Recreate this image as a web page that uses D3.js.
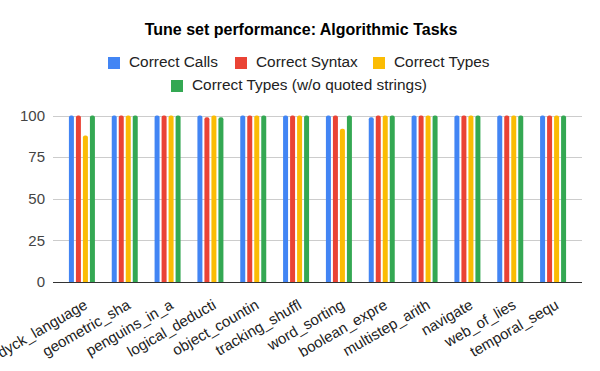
<!DOCTYPE html>
<html>
<head>
<meta charset="utf-8">
<script src="https://cdn.jsdelivr.net/npm/d3@7"></script>
<style>
  body { margin: 0; background: #fff; }
  text { font-family: Arial, "Liberation Sans", sans-serif; }
</style>
</head>
<body>
<svg id="chart"></svg>
<script>
'use strict'

// data
var tasks = ["dyck_language", "geometric_sha", "penguins_in_a", "logical_deducti", "object_countin",
    "tracking_shuffl", "word_sorting", "boolean_expre", "multistep_arith", "navigate", "web_of_lies", "temporal_sequ"];
var seriesNames = ["Correct Calls", "Correct Syntax", "Correct Types", "Correct Types (w/o quoted strings)"];
var colors = ["#4285F4", "#EA4335", "#FBBC04", "#34A853"];
var correctCalls = [100, 100, 100, 100, 100, 100, 100, 99, 100, 100, 100, 100];
var correctSyntax = [100, 100, 100, 99, 100, 100, 100, 100, 100, 100, 100, 100];
var correctTypes = [88, 100, 100, 100, 100, 100, 92, 100, 100, 100, 100, 100];
var correctTypesNoQuoted = [100, 100, 100, 99, 100, 100, 100, 100, 100, 100, 100, 100];
var yTicks = [0, 25, 50, 75, 100];

var allSeries = [correctCalls, correctSyntax, correctTypes, correctTypesNoQuoted];

var width = 600, height = 371;
var svg = d3.select("#chart").attr("width", width).attr("height", height);

var x0 = d3.scaleBand().domain(tasks).range([60.5, 574.5]);
var x1 = d3.scaleBand().domain(seriesNames).range([-13, 13]).paddingInner(2 / 7);
var y = d3.scaleLinear().domain([0, 100]).range([282, 115.5]);

// title
svg.append("text")
    .attr("x", 301).attr("y", 35)
    .attr("text-anchor", "middle")
    .style("font-size", "16px").style("font-weight", "bold")
    .attr("fill", "#000")
    .text("Tune set performance: Algorithmic Tasks");

// legend, two rows
var legendRows = [
    { items: [0, 1, 2], x: [108, 235, 373], y: 67 },
    { items: [3], x: [171], y: 90 }
];
legendRows.forEach(function (row) {
    row.items.forEach(function (i, k) {
        var g = svg.append("g").attr("transform", "translate(" + row.x[k] + "," + row.y + ")");
        g.append("rect").attr("x", 0).attr("y", -10).attr("width", 12).attr("height", 12).attr("fill", colors[i]);
        g.append("text").attr("x", 21).attr("y", 0).style("font-size", "15.4px").attr("fill", "#222").text(seriesNames[i]);
    });
});

// gridlines
svg.append("g")
    .selectAll("line")
    .data(yTicks.filter(function (d) { return d > 0; }))
    .enter().append("line")
    .attr("x1", 53).attr("x2", 582)
    .attr("y1", function (d) { return Math.round(y(d)) + 0.5; })
    .attr("y2", function (d) { return Math.round(y(d)) + 0.5; })
    .attr("stroke", "#cccccc").attr("stroke-width", 1);

// y tick labels
svg.append("g")
    .selectAll("text")
    .data(yTicks)
    .enter().append("text")
    .attr("x", 45)
    .attr("y", function (d) { return y(d); })
    .attr("dy", "0.35em")
    .attr("text-anchor", "end")
    .style("font-size", "15px")
    .attr("fill", "#444")
    .text(function (d) { return d; });

// bars
function barPath(x, w, top, bottom) {
    var r = Math.min(2, w / 2);
    return "M" + x + "," + bottom +
        "V" + (top + r) +
        "Q" + x + "," + top + " " + (x + r) + "," + top +
        "H" + (x + w - r) +
        "Q" + (x + w) + "," + top + " " + (x + w) + "," + (top + r) +
        "V" + bottom + "Z";
}

var groups = svg.append("g")
    .selectAll("g")
    .data(tasks)
    .enter().append("g")
    .attr("transform", function (d) { return "translate(" + (x0(d) + x0.bandwidth() / 2) + ",0)"; });

groups.selectAll("path")
    .data(function (d, i) {
        return seriesNames.map(function (s, k) { return { series: s, k: k, value: allSeries[k][i] }; });
    })
    .enter().append("path")
    .attr("d", function (d) { return barPath(x1(d.series), x1.bandwidth(), y(d.value), y(0)); })
    .attr("fill", function (d) { return colors[d.k]; });

// baseline
svg.append("line")
    .attr("x1", 53).attr("x2", 582)
    .attr("y1", Math.round(y(0)) + 0.5).attr("y2", Math.round(y(0)) + 0.5)
    .attr("stroke", "#333").attr("stroke-width", 1);

// x labels, slanted
svg.append("g")
    .selectAll("text")
    .data(tasks)
    .enter().append("text")
    .attr("transform", function (d) {
        return "translate(" + (x0(d) + x0.bandwidth() / 2 + 1) + ",298) rotate(-30)";
    })
    .attr("text-anchor", "end")
    .attr("dy", "0.75em")
    .style("font-size", "15px")
    .attr("fill", "#222")
    .text(function (d) { return d; });
</script>
</body>
</html>
